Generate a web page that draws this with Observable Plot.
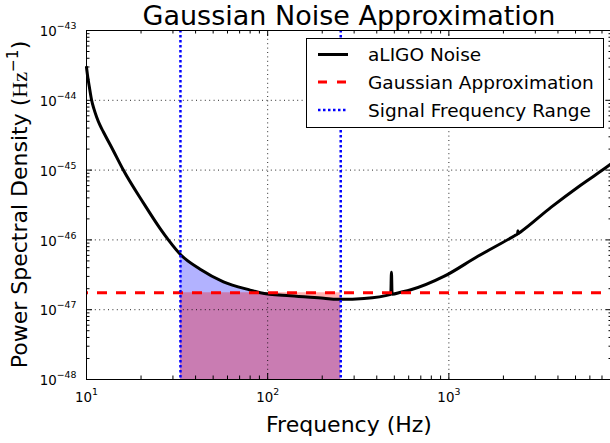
<!DOCTYPE html>
<html><head><meta charset="utf-8">
<script src="https://cdn.jsdelivr.net/npm/d3@7"></script>
<script src="https://cdn.jsdelivr.net/npm/@observablehq/plot@0.6"></script>
<style>
html,body{margin:0;padding:0;background:#fff;overflow:hidden;}
</style>
</head><body><div id="chart"></div>
<script>
// ---- data ----
const freq = [10, 10.17, 10.36, 10.66, 10.97, 11.40, 11.85, 12.36, 14.04, 15.94, 20.6, 25.5, 28.3, 33, 42.4, 57, 80, 91, 133.7, 204, 242, 253, 340, 478, 482, 486, 543, 617, 944, 1445, 2306, 2395, 2404, 2413, 2477, 3672, 5310, 7770, 8000];
const psd  = [2.98e-44, 2.12e-44, 1.58e-44, 1.02e-44, 7.64e-45, 5.68e-45, 4.43e-45, 3.57e-45, 1.91e-45, 1.01e-45, 3.39e-46, 1.45e-46, 1.0e-46, 6.17e-47, 3.80e-47, 2.51e-47, 1.91e-47, 1.75e-47, 1.58e-47, 1.46e-47, 1.41e-47, 1.41e-47, 1.45e-47, 1.66e-47, 3.45e-47, 1.67e-47, 1.78e-47, 1.93e-47, 3.02e-47, 5.83e-47, 1.15e-46, 1.22e-46, 1.35e-46, 1.23e-46, 1.29e-46, 2.95e-46, 6.03e-46, 1.20e-45, 1.27e-45];
const gaussPSD = 1.75e-47;
const bandLow = 33, bandHigh = 253;
const xTickValues = [10, 100, 1000];
const yTickValues = [1e-48, 1e-47, 1e-46, 1e-45, 1e-44, 1e-43];
const xDomain = [10, 8000];
const seriesNames = ["aLIGO Noise", "Gaussian Approximation", "Signal Frequency Range"];
const titleText = "Gaussian Noise Approximation";
const xLabelText = "Frequency (Hz)";
const yLabelText = "Power Spectral Density (";
const yLabelUnit = "Hz";
const yLabelExp = "\u22121";

// ---- layout ----
const W = 610, H = 443, mL = 86, mR = -2, mT = 30, mB = 64;
const pw = W - mL - mR, ph = H - mT - mB;

const noise = freq.map((f, i) => ({f, p: psd[i]}));
const band = noise.filter(d => d.f >= bandLow && d.f <= bandHigh);
const yBottom = yTickValues[0];
const mults = [2,3,4,5,6,7,8,9];
const xMinor = xTickValues.flatMap(d => mults.map(m => m * d)).filter(v => v < xDomain[1]);
const yMinor = yTickValues.slice(0, -1).flatMap(d => mults.map(m => m * d));
const fmt = d => "10^" + Math.round(Math.log10(d));

const MAJ = 6, MIN = 3.5;
const grid = {stroke: "black", strokeWidth: 1, strokeDasharray: "1,3.4", strokeOpacity: 0.85};

const chart = Plot.plot({
  width: W, height: H,
  marginLeft: mL, marginRight: mR, marginTop: mT, marginBottom: mB,
  x: {type: "log", domain: xDomain},
  y: {type: "log", domain: [yTickValues[0], yTickValues[yTickValues.length - 1]]},
  style: {fontFamily: "DejaVu Sans", fontSize: "13.4px", background: "white", color: "black"},
  marks: [
    Plot.areaY(band, {x: "f", y1: yBottom, y2: "p", fill: "blue", fillOpacity: 0.3, curve: "monotone-x"}),
    Plot.areaY(band, {x: "f", y1: yBottom, y2: gaussPSD, fill: "red", fillOpacity: 0.3}),
    Plot.ruleX(xTickValues, grid),
    Plot.ruleY(yTickValues, grid),
    Plot.line(noise, {x: "f", y: "p", stroke: "black", strokeWidth: 3, curve: "monotone-x"}),
    Plot.ruleY([gaussPSD], {stroke: "red", strokeWidth: 3, strokeDasharray: "10,9", strokeDashoffset: 8}),
    Plot.ruleX([bandLow, bandHigh], {stroke: "blue", strokeWidth: 2.5, strokeDasharray: "2.5,2.5"}),
    // ticks, inward on all four sides
    Plot.ruleX(xTickValues, {stroke: "black", insetTop: ph - MAJ}),
    Plot.ruleX(xTickValues, {stroke: "black", insetBottom: ph - MAJ}),
    Plot.ruleX(xMinor, {stroke: "black", insetTop: ph - MIN}),
    Plot.ruleX(xMinor, {stroke: "black", insetBottom: ph - MIN}),
    Plot.ruleY(yTickValues, {stroke: "black", insetRight: pw - MAJ}),
    Plot.ruleY(yTickValues, {stroke: "black", insetLeft: pw - MAJ}),
    Plot.ruleY(yMinor, {stroke: "black", insetRight: pw - MIN}),
    Plot.ruleY(yMinor, {stroke: "black", insetLeft: pw - MIN}),
    Plot.frame({stroke: "black"}),
    Plot.axisX(xTickValues, {tickSize: 0, tickPadding: 13, tickFormat: fmt, label: null, fontSize: 13.4}),
    Plot.axisY(yTickValues, {tickSize: 0, tickPadding: 10, tickFormat: fmt, label: null, fontSize: 13.4, dy: 1.5})
  ]
});
document.getElementById("chart").appendChild(chart);

const svg = d3.select(chart);
// superscript exponents on tick labels
svg.selectAll("text").each(function() {
  const t = this.textContent;
  if (!t.includes("^")) return;
  const [base, ex] = t.split("^");
  const sel = d3.select(this);
  sel.text(base);
  sel.append("tspan").attr("font-size", "9.4px").attr("dy", -7).text(ex.replace("-", "\u2212"));
});

// title
svg.append("text").attr("x", (mL + W - mR) / 2).attr("y", 25.3)
  .attr("text-anchor", "middle").attr("font-family", "DejaVu Sans").attr("font-size", 27)
  .attr("fill", "black").text(titleText);
// x label
svg.append("text").attr("x", (mL + W - mR) / 2).attr("y", 432)
  .attr("text-anchor", "middle").attr("font-family", "DejaVu Sans").attr("font-size", 22)
  .attr("fill", "black").text(xLabelText);
// y label
const yl = svg.append("text").attr("transform", `translate(26.5,${mT + ph / 2}) rotate(-90)`)
  .attr("text-anchor", "middle").attr("font-family", "DejaVu Sans").attr("font-size", 22).attr("fill", "black");
yl.append("tspan").text(yLabelText);
yl.append("tspan").attr("font-family", "Liberation Serif").text(yLabelUnit);
yl.append("tspan").attr("font-size", 15.4).attr("dy", -9).text(yLabelExp);
yl.append("tspan").attr("dy", 9).text(")");

// legend
const lg = svg.append("g");
lg.append("rect").attr("x", 306.5).attr("y", 38.5).attr("width", 297).attr("height", 89)
  .attr("fill", "white").attr("stroke", "black").attr("stroke-width", 1);
const rows = [
  {y: 54.5, stroke: "black", w: 3, dash: null},
  {y: 82, stroke: "red", w: 3, dash: "9,10"},
  {y: 110, stroke: "blue", w: 2.5, dash: "2.5,2.5"}
];
rows.forEach((r, i) => {
  const ln = lg.append("line").attr("x1", 318).attr("x2", 348).attr("y1", r.y).attr("y2", r.y)
    .attr("stroke", r.stroke).attr("stroke-width", r.w);
  if (r.dash) ln.attr("stroke-dasharray", r.dash);
  lg.append("text").attr("x", 368).attr("y", r.y + 6.5).attr("text-anchor", "start")
    .attr("font-family", "DejaVu Sans").attr("font-size", 18.5).attr("fill", "black").text(seriesNames[i]);
});
</script>
</body></html>
